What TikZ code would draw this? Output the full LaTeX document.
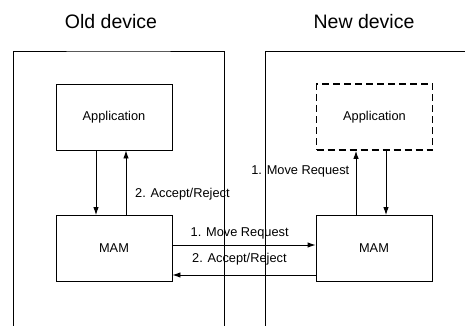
\documentclass[tikz,border=0pt]{standalone}
\usepackage{fontspec}
\setmainfont{Liberation Sans}
\usetikzlibrary{arrows.meta}
\begin{document}
\begin{tikzpicture}[x=1pt,y=-1pt,
  box/.style={draw,line width=0.9pt,minimum width=116pt,minimum height=66pt,inner sep=0pt,font=\fontsize{12.8}{15}\selectfont},
  dbox/.style={box,dashed,dash pattern=on 7pt off 4pt,line width=1.8pt},
  lbl/.style={inner sep=0pt,font=\fontsize{12.8}{15}\selectfont},
  ttl/.style={inner sep=0pt,font=\fontsize{19.5}{22}\selectfont},
  arr/.style={line width=0.9pt,-{Latex[length=8pt,width=5.5pt]}},
  edge/.style={line width=0.9pt}]
\useasboundingbox (0,0) rectangle (465,326);
% device frames (open at the bottom)
\coordinate (obl) at (13,326);
\coordinate (obr) at (224,326);
\coordinate (nbl) at (265.5,326);
\coordinate (nbr) at (465,51);
\draw[edge] (obl) |- (118,51) -| (obr);
\draw[edge] (nbl) |- (nbr);
\node[ttl] (ot) at (111,22) {Old device};
\node[ttl] (nt) at (364,22) {New device};
% old device
\node[box] (oapp) at (114,117) {Application};
\node[box] (omam) at (114,248.5) {MAM};
% new device
\node[dbox] (napp) at (374.5,117) {Application};
\node[box] (nmam) at (374,248.5) {MAM};
% vertical exchanges
\draw[arr] (oapp.south -| 96,0) -- (omam.north -| 96,0);
\draw[arr] (omam.north -| 126,0) -- (oapp.south -| 126,0);
\draw[arr] (nmam.north -| 356,0) -- (napp.south -| 356,0);
\draw[arr] (napp.south -| 386,0) -- (nmam.north -| 386,0);
% horizontal exchanges
\draw[arr] (omam.east |- 0,245) -- (nmam.west |- 0,245);
\draw[arr] (nmam.west |- 0,275) -- (omam.east |- 0,275);
% labels
\node[lbl,anchor=west] (l1) at (135,194) {2. Accept/Reject};
\node[lbl,anchor=east] (l2) at (349.5,171) {1. Move Request};
\node[lbl,anchor=west] (l3) at (190.5,233) {1. Move Request};
\node[lbl,anchor=west] (l4) at (192,259) {2. Accept/Reject};
\end{tikzpicture}
\end{document}
